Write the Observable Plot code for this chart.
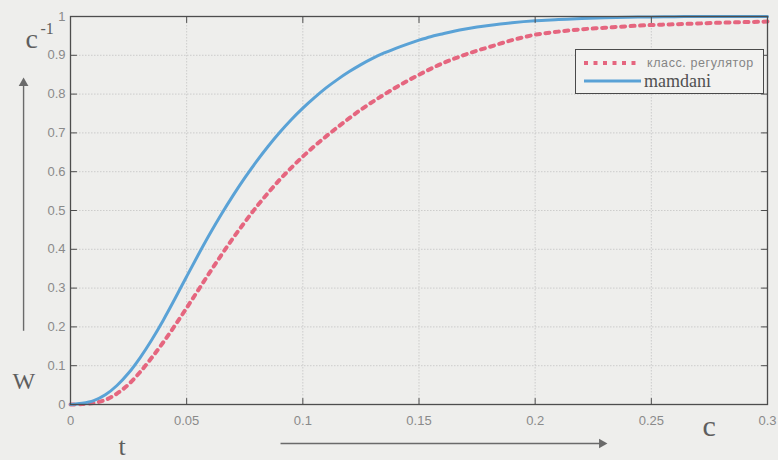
<!DOCTYPE html>
<html><head><meta charset="utf-8">
<script src="https://cdn.jsdelivr.net/npm/d3@7"></script>
<script src="https://cdn.jsdelivr.net/npm/@observablehq/plot@0.6"></script>
<style>
html,body{margin:0;padding:0;background:#eeeeec;}
#wrap{position:relative;width:778px;height:460px;overflow:hidden;}
#legend{position:absolute;left:575px;top:49px;width:187px;height:43px;border:1.3px solid #4a4a4a;background:#f2f2f0;}
#legend svg{position:absolute;left:0;top:0;}
</style></head><body><div id="wrap"></div>
<script>
const tValues = [0,0.005,0.01,0.015,0.02,0.025,0.03,0.035,0.04,0.045,0.05,0.055,0.06,0.065,0.07,0.075,0.08,0.085,0.09,0.095,0.1,0.105,0.11,0.115,0.12,0.125,0.13,0.135,0.14,0.145,0.15,0.155,0.16,0.165,0.17,0.175,0.18,0.19,0.2,0.21,0.22,0.23,0.24,0.25,0.26,0.27,0.28,0.29,0.3];
const mamdaniValues = [0,0.003,0.010,0.025,0.049,0.081,0.121,0.167,0.218,0.273,0.330,0.386,0.440,0.491,0.539,0.584,0.626,0.665,0.701,0.734,0.764,0.791,0.816,0.838,0.858,0.876,0.892,0.906,0.918,0.929,0.939,0.948,0.955,0.962,0.968,0.973,0.977,0.984,0.989,0.992,0.995,0.997,0.998,0.999,0.9995,1,1,1,1];
const classicValues = [0,0.001,0.004,0.012,0.028,0.052,0.084,0.121,0.161,0.204,0.249,0.295,0.341,0.386,0.429,0.470,0.509,0.545,0.579,0.610,0.639,0.666,0.691,0.715,0.738,0.760,0.780,0.799,0.817,0.834,0.850,0.865,0.879,0.891,0.902,0.912,0.921,0.939,0.953,0.961,0.967,0.971,0.975,0.978,0.980,0.982,0.984,0.9855,0.987];
const seriesNames = ["класс. регулятор", "mamdani"];
const xTicks = [0,0.05,0.1,0.15,0.2,0.25,0.3];
const xTickLabels = ["0","0.05","0.1","0.15","0.2","0.25","0.3"];
const yTicks = [0,0.1,0.2,0.3,0.4,0.5,0.6,0.7,0.8,0.9,1];
const yTickLabels = ["0","0.1","0.2","0.3","0.4","0.5","0.6","0.7","0.8","0.9","1"];

const RED = "#e5667f", BLUE = "#5aa2d6", FRAME = "#4d4d4d", TICKTXT = "#8a8a8a", ANN = "#5e5e5e";
const classicData = tValues.map((t, i) => ({t, v: classicValues[i]}));
const mamdaniData = tValues.map((t, i) => ({t, v: mamdaniValues[i]}));
const serif = "'Liberation Serif', 'Times New Roman', serif";
const tickShape = {draw(context, l) { context.moveTo(0, 0); context.lineTo(0, -l); }};
const inTick = (data, opts) => Plot.vector(data, {length: 6, anchor: "start", shape: tickShape, stroke: FRAME, strokeWidth: 1, ...opts});

const chart = Plot.plot({
  width: 778, height: 460,
  marginLeft: 70, marginRight: 11, marginTop: 16, marginBottom: 56,
  style: {background: "transparent", fontFamily: "'Liberation Sans', Arial, sans-serif", fontSize: "13px"},
  x: {domain: [0, 0.3]},
  y: {domain: [0, 1]},
  marks: [
    Plot.gridX(xTicks, {stroke: "#c4c4c4", strokeOpacity: 0.8, strokeDasharray: "1.5,1.5"}),
    Plot.gridY(yTicks, {stroke: "#c4c4c4", strokeOpacity: 0.8, strokeDasharray: "1.5,1.5"}),
    Plot.line(classicData, {x: "t", y: "v", stroke: RED, strokeWidth: 4, strokeDasharray: "4,5.5", curve: "monotone-x"}),
    Plot.line(mamdaniData, {x: "t", y: "v", stroke: BLUE, strokeWidth: 3, curve: "monotone-x"}),
    Plot.frame({stroke: FRAME, strokeWidth: 1.3}),
    inTick(xTicks, {x: d => d, frameAnchor: "bottom", rotate: 0}),
    inTick(xTicks, {x: d => d, frameAnchor: "top", rotate: 180}),
    inTick(yTicks, {y: d => d, frameAnchor: "left", rotate: 90}),
    inTick(yTicks, {y: d => d, frameAnchor: "right", rotate: -90}),
    Plot.axisX(xTicks, {anchor: "bottom", tickSize: 0, tickPadding: 11, fill: TICKTXT, label: null,
      tickFormat: d => xTickLabels[xTicks.indexOf(d)]}),
    Plot.axisY(yTicks, {anchor: "left", tickSize: 0, tickPadding: 5, fill: TICKTXT, label: null,
      tickFormat: d => yTickLabels[yTicks.indexOf(d)]}),
    // annotations
    Plot.text(["c"], {frameAnchor: "top-left", dx: -45, dy: 31, textAnchor: "start", lineAnchor: "bottom", fontFamily: serif, fontSize: 28, fill: ANN}),
    Plot.text(["-1"], {frameAnchor: "top-left", dx: -30, dy: 17, textAnchor: "start", lineAnchor: "bottom", fontFamily: serif, fontSize: 16, fill: ANN}),
    Plot.text(["W"], {frameAnchor: "bottom-left", dx: -58, dy: -16, textAnchor: "start", lineAnchor: "bottom", fontFamily: serif, fontSize: 24, fill: ANN}),
    Plot.text(["t"], {frameAnchor: "bottom-left", dx: 48, dy: 50, textAnchor: "start", lineAnchor: "bottom", fontFamily: serif, fontSize: 26, fill: ANN}),
    Plot.text(["c"], {frameAnchor: "bottom-right", dx: -65, dy: 31, textAnchor: "start", lineAnchor: "bottom", fontFamily: serif, fontSize: 30, fill: ANN}),
    Plot.link([{}], {x1: () => -0.0202, x2: () => -0.0202, y1: () => 0.19, y2: () => 0.826, stroke: "#6a6a6a", strokeWidth: 1.4}),
    Plot.dot([{}], {x: () => -0.0202, y: () => 0.8284, symbol: "triangle", r: 3.6, fill: "#6a6a6a", stroke: "none"}),
    Plot.link([{}], {x1: () => 0.0904, x2: () => 0.228, y1: () => -0.1005, y2: () => -0.1005, stroke: "#6a6a6a", strokeWidth: 1.4}),
    Plot.dot([{}], {x: () => 0.2287, y: () => -0.1005, symbol: "triangle", rotate: 90, r: 3.6, fill: "#6a6a6a", stroke: "none"})
  ]
});

const wrap = document.getElementById("wrap");
wrap.appendChild(chart);
const legend = document.createElement("div");
legend.id = "legend";
legend.innerHTML = `<svg width="189" height="45">
  <line x1="8" x2="62" y1="13" y2="13" stroke="${RED}" stroke-width="4" stroke-dasharray="4,5.5"/>
  <text x="71" y="16.5" font-family="'Liberation Sans', Arial, sans-serif" font-size="12.5" letter-spacing="0.6" fill="#858585">${seriesNames[0]}</text>
  <line x1="8" x2="65" y1="31" y2="31" stroke="${BLUE}" stroke-width="3"/>
  <text x="68" y="37" font-family="${serif.replace(/'/g, "&apos;")}" font-size="18" fill="#505050">${seriesNames[1]}</text>
</svg>`;
wrap.appendChild(legend);
</script>
</body></html>
